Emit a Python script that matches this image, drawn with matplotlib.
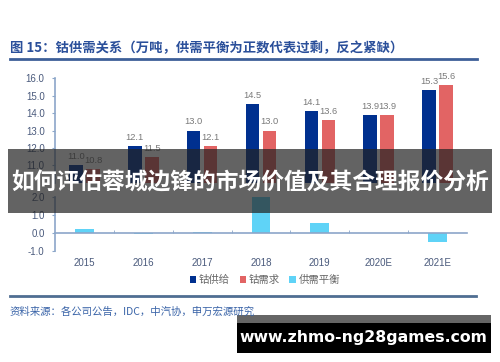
import matplotlib
matplotlib.use("Agg")
import matplotlib.pyplot as plt
from matplotlib.patches import Rectangle

plt.rcParams['font.family'] = ['Liberation Sans', 'Noto Sans CJK SC', 'DejaVu Sans']

# data
tahun = ['2015', '2016', '2017', '2018', '2019', '2020E', '2021E']
supply = [11.0, 12.1, 13.0, 14.5, 14.1, 13.9, 15.3]
demand = [10.8, 11.5, 12.1, 13.0, 13.6, 13.9, 15.6]
balance = [0.22, -0.05, 0.05, 2.0, 0.55, 0.0, -0.48]

c_sup = '#00308f'
c_dem = '#e26464'
c_bal = '#5fd3f7'
c_axis = '#8ca6c9'
c_tick = '#4a5a7c'
c_val = '#7a7a7a'

fig = plt.figure(figsize=(5.0, 3.62), dpi=100)
x = list(range(len(tahun)))

# bagian atas (pasokan & permintaan)
ax1 = fig.add_axes([0.11, 0.4945, 0.824, 0.29])
b1 = ax1.bar([i - 0.145 for i in x], supply, width=0.23, color=c_sup)
b2 = ax1.bar([i + 0.145 for i in x], demand, width=0.23, color=c_dem)
ax1.set_ylim(10, 16)
ax1.set_xlim(-0.5, 6.5)
ax1.set_yticks([11, 12, 13, 14, 15, 16])
ax1.set_yticklabels(['%.1f' % v for v in [11, 12, 13, 14, 15, 16]])
for i in x:
    ax1.annotate('%.1f' % supply[i], (i - 0.145, supply[i]), xytext=(0, 3),
                 textcoords='offset points', ha='center', va='bottom',
                 fontsize=6.7, color=c_val)
    ax1.annotate('%.1f' % demand[i], (i + 0.145, demand[i]), xytext=(0, 3),
                 textcoords='offset points', ha='center', va='bottom',
                 fontsize=6.7, color=c_val)
ax1.set_xticks([])
for s in ['top', 'right', 'bottom']:
    ax1.spines[s].set_visible(False)

# bagian bawah (keseimbangan)
ax2 = fig.add_axes([0.11, 0.3066, 0.824, 0.1492])
b3 = ax2.bar(x, balance, width=0.32, color=c_bal)
ax2.set_ylim(-1, 2)
ax2.set_xlim(-0.5, 6.5)
ax2.set_yticks([-1, 0, 1, 2])
ax2.set_yticklabels(['%.1f' % v for v in [-1, 0, 1, 2]])
ax2.spines['bottom'].set_position(('data', 0))
ax2.set_xticks([])
ax2.set_xticks([i + 0.5 for i in x[:-1]], minor=True)
ax2.tick_params(axis='x', which='minor', length=2.5, direction='in', color=c_axis)
ax2.tick_params(axis='x', which='minor', labelbottom=False)
for s in ['top', 'right']:
    ax2.spines[s].set_visible(False)
sec = ax2.secondary_xaxis('bottom')
sec.set_xticks(x)
sec.set_xticklabels(tahun)
sec.tick_params(length=0, pad=5, labelsize=7, labelcolor=c_tick)
sec.spines['bottom'].set_visible(False)

for ax in [ax1, ax2]:
    ax.set_facecolor('none')
    ax.spines['left'].set_color(c_axis)
    ax.spines['bottom'].set_color(c_axis)
    ax.spines['left'].set_linewidth(1.2)
    ax.spines['bottom'].set_linewidth(1.2)
    ax.tick_params(axis='y', length=2.5, color=c_axis, labelsize=7, labelcolor=c_tick, pad=5)

fig.legend([b1, b2, b3], ['钴供给', '钴需求', '供需平衡'], loc='center',
           bbox_to_anchor=(0.53, 0.226), ncol=3, frameon=False, fontsize=7.5,
           handlelength=0.6, handleheight=0.6, handletextpad=0.3,
           columnspacing=0.9, labelcolor='#666666')

# judul
fig.text(0.02, 0.867, '图 15：钴供需关系（万吨，供需平衡为正数代表过剩，反之紧缺）',
         fontsize=9.6, fontweight='bold', color='#2a4f9a', va='center',
         family=['Noto Sans CJK SC', 'DejaVu Sans'])
fig.add_artist(plt.Line2D([0.02, 0.954], [0.837, 0.837], color='#3d5f98', lw=2))
fig.add_artist(plt.Line2D([0.02, 0.952], [0.182, 0.182], color='#4f6e92', lw=2))
fig.text(0.02, 0.14, '资料来源：各公司公告，IDC，中汽协，申万宏源研究', fontsize=7.5,
         color='#3a64a8', va='center', family=['Noto Sans CJK SC', 'DejaVu Sans'])

# overlay
fig.add_artist(Rectangle((0.016, 0.412), 0.968, 0.177, transform=fig.transFigure,
                         facecolor='#232323', alpha=0.71, edgecolor='none'))
fig.text(0.5, 0.494, '如何评估蓉城边锋的市场价值及其合理报价分析', fontsize=16.4,
         fontweight='bold', color='white', ha='center', va='center',
         family=['Noto Sans CJK SC', 'DejaVu Sans'])
fig.add_artist(Rectangle((0.474, 0.108), 0.508, 0.022, transform=fig.transFigure,
                         facecolor='#666666', edgecolor='none'))
fig.add_artist(Rectangle((0.474, 0.025), 0.508, 0.083, transform=fig.transFigure,
                         facecolor='black', edgecolor='none'))
fig.text(0.727, 0.069, 'www.zhmo-ng28games.com', fontsize=11.3, fontweight='bold',
         color='white', ha='center', va='center', family='DejaVu Sans')

plt.savefig('out.png', dpi=100)
